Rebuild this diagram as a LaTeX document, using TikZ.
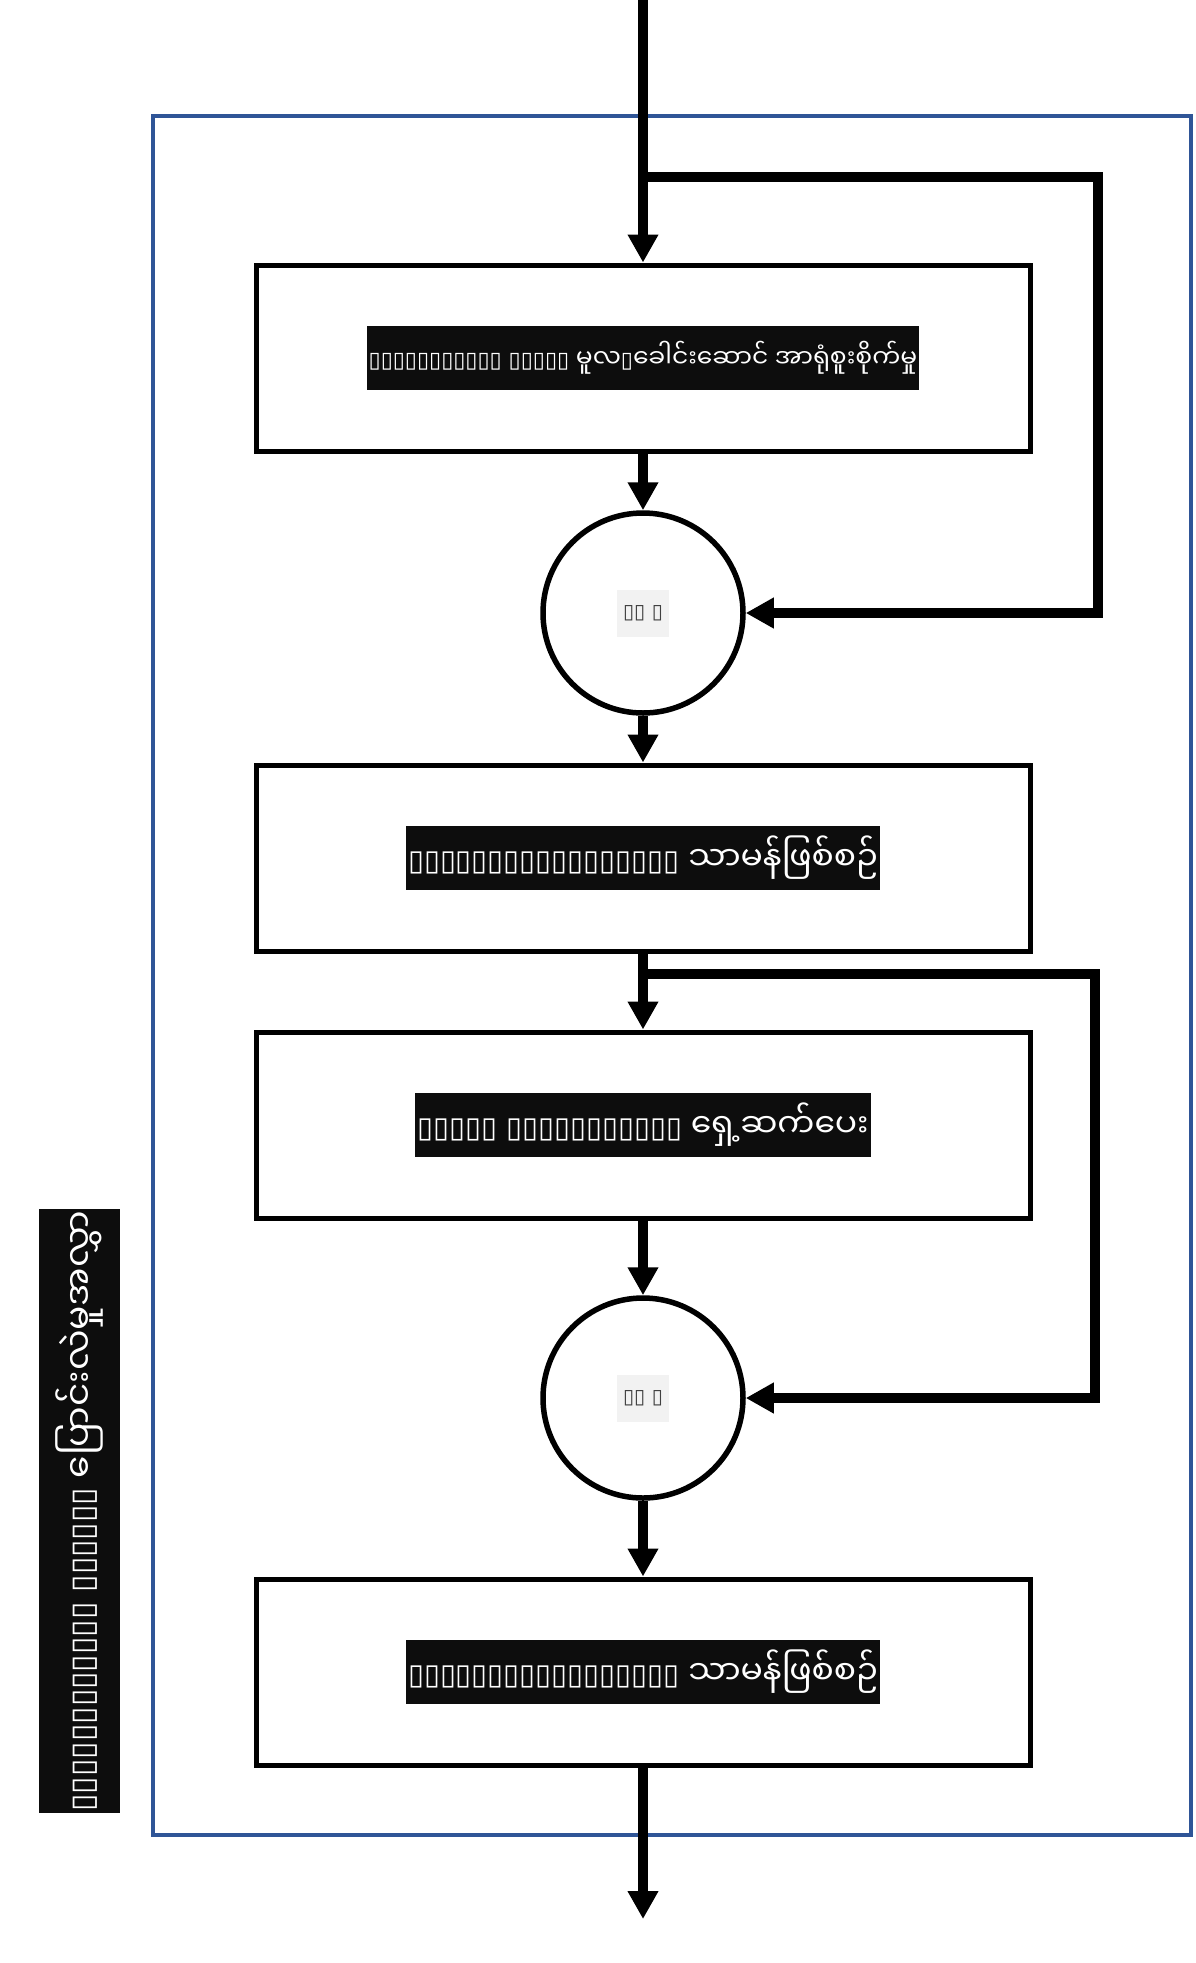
\documentclass[tikz,border=0pt]{standalone}
\usepackage{fontspec}
\usepackage{xcolor}
\usepackage{tikz}
\usetikzlibrary{arrows.meta}

\setmainfont{DejaVu Sans}
\newfontfamily\mmfont[Script=Myanmar]{Noto Sans Myanmar UI}
\newfontfamily\boxfont[Scale=0.88]{DejaVu Sans}
\newcommand{\tofu}[1]{{\boxfont #1}}

\definecolor{framecol}{HTML}{2F5597}
\definecolor{tagbg}{HTML}{0D0D0D}
\definecolor{sumbg}{HTML}{F2F2F2}
\definecolor{sumtext}{HTML}{404040}

\begin{document}
\begin{tikzpicture}[
		x=1pt, y=-1pt,
		block/.style={rectangle, draw, line width=5pt, minimum width=774pt, minimum height=186pt},
		junction/.style={circle, draw, line width=5.5pt, minimum size=200pt},
		tag/.style={fill=tagbg, text=white, font=\mmfont\fontsize{33}{40}\selectfont, inner xsep=2pt, inner ysep=0pt, minimum height=64pt},
		sumtag/.style={fill=sumbg, text=sumtext, font=\mmfont\fontsize{23}{28}\selectfont, inner sep=0pt, minimum width=52pt, minimum height=47pt},
		frame/.style={draw=framecol, line width=4.5pt},
		arrow/.style={-{Triangle[width=29pt,length=28pt]}, line width=10pt}
	]
		\useasboundingbox (0,0) rectangle (1196,1963);
		
		% Layer frame
		\draw[frame] (153,116) rectangle (1191,1835);
		
		% Blocks
		\node[block] (b1) at (643,358) {};
		\node[junction] (c1) at (643,613) {};
		\node[block] (b2) at (643,858) {};
		\node[block] (b3) at (643,1125) {};
		\node[junction] (c2) at (643,1398) {};
		\node[block] (b4) at (643,1672) {};
		
		% Labels
		\node[tag, font=\mmfont\fontsize{25}{30}\selectfont] (t1) at (b1) {\tofu{▯▯▯▯▯▯▯▯▯▯▯ ▯▯▯▯▯} မူလ\tofu{▯}ခေါင်းဆောင် အာရုံစူးစိုက်မှု};
		\node[sumtag] (p1) at (c1) {\tofu{▯▯ ▯}};
		\node[tag] (t2) at (b2) {\tofu{▯▯▯▯▯▯▯▯▯▯▯▯▯▯▯▯▯} သာမန်ဖြစ်စဉ်};
		\node[tag] (t3) at (b3) {\tofu{▯▯▯▯▯ ▯▯▯▯▯▯▯▯▯▯▯} ရှေ့ဆက်ပေး};
		\node[sumtag] (p2) at (c2) {\tofu{▯▯ ▯}};
		\node[tag] (t4) at (b4) {\tofu{▯▯▯▯▯▯▯▯▯▯▯▯▯▯▯▯▯} သာမန်ဖြစ်စဉ်};
		\node[tag, rotate=90, minimum height=81pt, font=\mmfont\fontsize{36}{42}\selectfont] (side) at (79,1511) {\tofu{▯▯▯▯▯▯▯▯▯▯▯▯ ▯▯▯▯▯▯} ပြောင်းလဲမှုအလွှာ};
		
		% Branch points
		\coordinate (in) at (643,0);
		\coordinate (out) at (643,1919);
		\coordinate (s1) at (643,177);
		\coordinate (k1) at (1098,177);
		\coordinate (s2) at (643,974);
		\coordinate (k2) at (1095,974);
		
		% Arrows
		\draw[arrow] (in) -- (b1.north);
		\draw[arrow] (b1.south) -- (c1.north);
		\draw[arrow] (c1.south) -- (b2.north);
		\draw[arrow] (b2.south) -- (b3.north);
		\draw[arrow] (b3.south) -- (c2.north);
		\draw[arrow] (c2.south) -- (b4.north);
		\draw[arrow] (b4.south) -- (out);
		\draw[arrow] (s1) -- (k1) |- (c1.east);
		\draw[arrow] (s2) -- (k2) |- (c2.east);
	\end{tikzpicture}
\end{document}
